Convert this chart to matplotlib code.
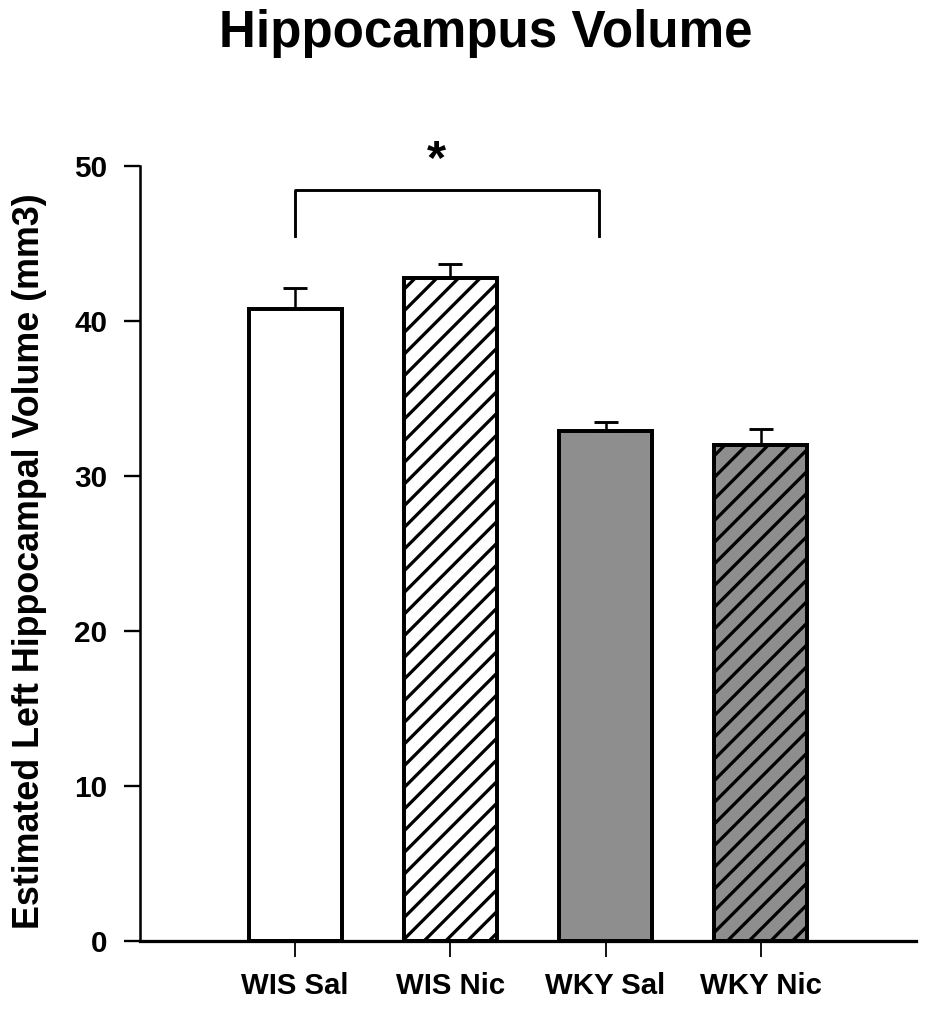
import matplotlib
matplotlib.use("Agg")
import matplotlib.pyplot as plt
import numpy as np

plt.rcParams['font.family'] = ['Liberation Sans', 'DejaVu Sans']
plt.rcParams['font.weight'] = 'bold'
plt.rcParams['hatch.linewidth'] = 1.8

categories = ["WIS Sal", "WIS Nic", "WKY Sal", "WKY Nic"]
values = [40.8, 42.8, 32.9, 32.0]
errors = [1.3, 0.9, 0.6, 1.0]
fills = ["white", "white", "#8e8e8e", "#8e8e8e"]
hatches = ["", "//", "", "//"]
bracket_left, bracket_right = 0.0, 1.96
bracket_top, bracket_bottom = 48.45, 45.5
star_x, star_y = 0.91, 50.35
yticks = [0, 10, 20, 30, 40, 50]

DPI = 130
W, H = 936, 1012
fig = plt.figure(figsize=(W / DPI, H / DPI), dpi=DPI)
ax = fig.add_axes([140 / W, 1 - 941 / H, (916 - 140) / W, (941 - 166) / H])

x = np.arange(len(categories))
for xi, v, e, f, h in zip(x, values, errors, fills, hatches):
    ax.bar(xi, v, width=0.6, color=f, edgecolor="black", linewidth=2.2,
           hatch=h, zorder=2)
    ax.errorbar(xi, v, yerr=[[0], [e]], fmt="none", ecolor="black",
                elinewidth=1.4, capsize=6.6, capthick=1.6, zorder=3)

ax.plot([bracket_left, bracket_left, bracket_right, bracket_right],
        [bracket_bottom, bracket_top, bracket_top, bracket_bottom],
        color="black", linewidth=1.6, clip_on=False)
ax.text(star_x, star_y, "*", ha="center", va="center", fontsize=27,
        fontweight="bold", clip_on=False)

ax.set_xlim(-1, 4)
ax.set_ylim(0, 50)
ax.set_xticks(x)
ax.set_xticklabels(categories, fontsize=16.3, fontweight="bold")
ax.set_yticks(yticks)
ax.set_yticklabels([str(t) for t in yticks], fontsize=16.5, fontweight="bold")
ax.tick_params(axis="y", direction="out", length=9, width=1.3, pad=9)
ax.tick_params(axis="x", direction="out", length=9, width=1.0, pad=8)
for s in ["top", "right"]:
    ax.spines[s].set_visible(False)
ax.spines["left"].set_linewidth(1.4)
ax.spines["bottom"].set_linewidth(1.8)

ax.set_ylabel("Estimated Left Hippocampal Volume (mm3)", fontsize=19.9,
              fontweight="bold")
ax.yaxis.set_label_coords(-0.12, 0.49)
fig.text(486 / W, 1 - 33 / H, "Hippocampus Volume", ha="center", va="center",
         fontsize=28.3, fontweight="bold")

fig.savefig("out.png", dpi=DPI, facecolor="white")
